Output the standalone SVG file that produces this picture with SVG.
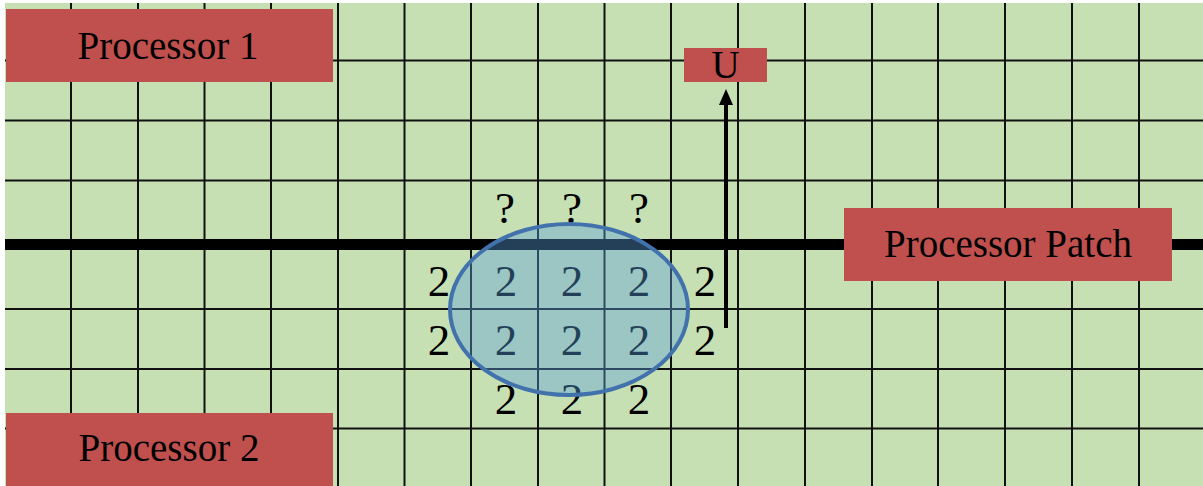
<svg xmlns="http://www.w3.org/2000/svg" width="1203" height="486" viewBox="0 0 1203 486">
<defs>
<style>
.grid line{stroke:#111;stroke-width:2}
.box{fill:#C0504D}
.lbl{font-family:"Liberation Serif","Times New Roman",serif;font-size:39px;fill:#000;text-anchor:middle}
.num{font-family:"Liberation Serif","Times New Roman",serif;font-size:45px;fill:#000;text-anchor:middle}
</style>
<marker id="ah" markerUnits="userSpaceOnUse" markerWidth="16" markerHeight="14" refX="1" refY="7" orient="auto">
<path d="M0,0 L16,7 L0,14 z" fill="#000"/>
</marker>
</defs>
<rect width="1203" height="486" fill="#fff"/>
<rect x="5" y="3" width="1198" height="483" fill="#C6E0B4"/>
<g class="grid" id="grid">
<line x1="71" y1="3" x2="71" y2="486"/>
<line x1="138" y1="3" x2="138" y2="486"/>
<line x1="204.5" y1="3" x2="204.5" y2="486"/>
<line x1="271" y1="3" x2="271" y2="486"/>
<line x1="338" y1="3" x2="338" y2="486"/>
<line x1="404.5" y1="3" x2="404.5" y2="486"/>
<line x1="471" y1="3" x2="471" y2="486"/>
<line x1="538" y1="3" x2="538" y2="486"/>
<line x1="604.5" y1="3" x2="604.5" y2="486"/>
<line x1="671" y1="3" x2="671" y2="486"/>
<line x1="738" y1="3" x2="738" y2="486"/>
<line x1="805" y1="3" x2="805" y2="486"/>
<line x1="872" y1="3" x2="872" y2="486"/>
<line x1="938" y1="3" x2="938" y2="486"/>
<line x1="1005" y1="3" x2="1005" y2="486"/>
<line x1="1072" y1="3" x2="1072" y2="486"/>
<line x1="1139" y1="3" x2="1139" y2="486"/>
<line x1="5" y1="60.5" x2="1203" y2="60.5"/>
<line x1="5" y1="120.5" x2="1203" y2="120.5"/>
<line x1="5" y1="180.5" x2="1203" y2="180.5"/>
<line x1="5" y1="309" x2="1203" y2="309"/>
<line x1="5" y1="369" x2="1203" y2="369"/>
<line x1="5" y1="428.5" x2="1203" y2="428.5"/>
<line x1="5" y1="244.5" x2="1203" y2="244.5" style="stroke:#000;stroke-width:11"/>
</g>
<g id="values">
<text class="num" x="505" y="223">?</text>
<text class="num" x="572" y="223">?</text>
<text class="num" x="639" y="223">?</text>
<text class="num" x="439" y="296">2</text>
<text class="num" x="506" y="296">2</text>
<text class="num" x="572" y="296">2</text>
<text class="num" x="639" y="296">2</text>
<text class="num" x="705" y="296">2</text>
<text class="num" x="439" y="355">2</text>
<text class="num" x="506" y="355">2</text>
<text class="num" x="572" y="355">2</text>
<text class="num" x="639" y="355">2</text>
<text class="num" x="705" y="355">2</text>
<text class="num" x="506" y="414">2</text>
<text class="num" x="572" y="414">2</text>
<text class="num" x="639" y="414">2</text>
</g>
<g id="stencil">
<ellipse cx="569" cy="309.5" rx="119" ry="85.5" fill="#5AA0DC" fill-opacity="0.4" stroke="#4272AC" stroke-width="4"/>
</g>
<g id="processor1">
<rect class="box" x="6" y="9" width="327" height="73"/>
<text class="lbl" x="168" y="59">Processor 1</text>
</g>
<g id="processor2">
<rect class="box" x="6" y="413" width="327" height="73"/>
<text class="lbl" x="169" y="461">Processor 2</text>
</g>
<g id="processorPatch">
<rect class="box" x="844" y="208" width="328" height="73"/>
<text class="lbl" x="1008" y="257">Processor Patch</text>
</g>
<g id="u">
<rect class="box" x="684" y="48" width="83" height="34"/>
<text class="lbl" x="725.5" y="78">U</text>
</g>
<g id="connectors">
<line x1="726" y1="328" x2="726" y2="104" stroke="#000" stroke-width="4" marker-end="url(#ah)"/>
</g>
</svg>
